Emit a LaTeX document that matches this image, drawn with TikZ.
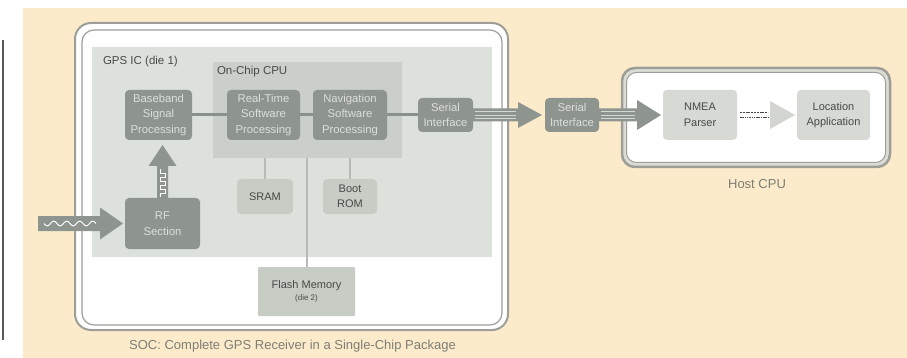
\documentclass[tikz,border=0pt]{standalone}
\usepackage{fontspec}
\setmainfont{Liberation Sans}
\usetikzlibrary{calc}
\definecolor{cream}{HTML}{FCEBCB}
\definecolor{chipfill}{HTML}{DDE1DC}
\definecolor{cpufill}{HTML}{CAD0C9}
\definecolor{darkfill}{HTML}{8E948E}
\definecolor{darktext}{HTML}{DCE0DA}
\definecolor{memfill}{HTML}{C7CCC5}
\definecolor{hostfill}{HTML}{D7D9D5}
\definecolor{labeltext}{HTML}{484A45}
\definecolor{captext}{HTML}{7E7E74}
\definecolor{frame}{HTML}{9E9E98}
\definecolor{busline}{HTML}{8A908A}
\definecolor{memline}{HTML}{B6BBB5}
\definecolor{stripe}{HTML}{D4D8D2}
\definecolor{hostgap}{HTML}{DCDCD7}
\definecolor{softarrow}{HTML}{D3D5D1}
\definecolor{edgeline}{HTML}{5A5A5A}
\begin{document}
\begin{tikzpicture}[x=1pt,y=-1pt,
  every node/.style={outer sep=0pt, inner sep=0pt},
  darkbox/.style={fill=darkfill, rounded corners=4pt, text=darktext, align=center, font=\fontsize{11.3}{15.5}\selectfont},
  membox/.style={fill=memfill, rounded corners=4pt, text=labeltext, align=center, font=\fontsize{11}{14.5}\selectfont},
  appbox/.style={fill=hostfill, rounded corners=4pt, text=labeltext, align=center, font=\fontsize{11}{15.5}\selectfont},
  header/.style={anchor=west, text=labeltext, font=\fontsize{11.5}{14}\selectfont},
  captionlabel/.style={text=captext, font=\fontsize{13}{16}\selectfont},
  bus/.style={draw=busline, line width=3pt},
  membus/.style={draw=memline, line width=2pt},
]
\useasboundingbox (0,0) rectangle (907,358);
% page background
\fill[cream] (23,8) rectangle (907,358);
\draw[edgeline, line width=1.2pt] (3,40) -- (3,340);

% SOC package outline (double frame)
\node[draw=frame, line width=2pt, fill=white, rounded corners=16pt,
      minimum width=433pt, minimum height=307pt] (soc) at (291.5,176.5) {};
\node[draw=frame, line width=1.2pt, rounded corners=12pt,
      minimum width=420pt, minimum height=295pt] (socin) at (292,177.5) {};
\node[captionlabel] (soccap) at (292.5,346) {SOC: Complete GPS Receiver in a Single-Chip Package};

% GPS die and on-chip CPU areas
\node[fill=chipfill, minimum width=400pt, minimum height=210pt] (gpsic) at (292,152) {};
\node[header] (gpslabel) at (103,62) {GPS IC (die 1)};
\node[fill=cpufill, minimum width=189pt, minimum height=96pt] (cpu) at (307.5,110) {};
\node[header] (cpulabel) at (217,72) {On-Chip CPU};

% processing blocks
\node[darkbox, minimum width=67pt, minimum height=50pt] (baseband) at (158.5,115) {Baseband\\Signal\\Processing};
\node[darkbox, minimum width=73pt, minimum height=50pt] (realtime) at (263.5,115) {Real-Time\\Software\\Processing};
\node[darkbox, minimum width=74pt, minimum height=50pt] (nav) at (350,115) {Navigation\\Software\\Processing};
\node[darkbox, minimum width=55pt, minimum height=34pt] (serL) at (445.5,115) {Serial\\Interface};
\node[darkbox, minimum width=75pt, minimum height=51pt] (rf) at (162.5,223.5) {RF\\Section};

% memories
\node[membox, minimum width=56pt, minimum height=35pt] (sram) at (265,196.5) {SRAM};
\node[membox, minimum width=54pt, minimum height=35pt] (bootrom) at (350,196.5) {Boot\\ROM};
\node[membox, rounded corners=1pt, minimum width=97pt, minimum height=49pt] (flash) at (306.5,291.5)
  {Flash Memory\\[-2pt]{\fontsize{8}{10}\selectfont (die 2)}};

% buses
\draw[bus] (baseband.east) -- (realtime.west);
\draw[bus] (realtime.east) -- (nav.west);
\draw[bus] (nav.east) -- (serL.west);
\draw[membus] (sram.north) -- (sram.north |- cpu.south);
\draw[membus] (bootrom.north) -- (bootrom.north |- cpu.south);
\draw[membus] (flash.north) -- (flash.north |- cpu.south);

% external serial interface
\node[darkbox, minimum width=54pt, minimum height=34pt] (serR) at (572,115) {Serial\\Interface};

% host CPU frame
\node[draw=frame, line width=2.5pt, fill=hostgap, rounded corners=13pt,
      minimum width=268pt, minimum height=99pt] (host) at (756,117.5) {};
\node[draw=frame, line width=1pt, fill=white, rounded corners=10pt,
      minimum width=259pt, minimum height=90pt] (hostin) at (756,117.5) {};
\node[captionlabel] (hostlabel) at (757,184) {Host CPU};
\node[appbox, minimum width=74pt, minimum height=50pt] (nmea) at (700,115) {NMEA\\Parser};
\node[appbox, minimum width=73pt, minimum height=50pt] (locapp) at (833.5,115) {Location\\Application};

% serial link between the two interfaces
\fill[darkfill] ($(serL.east)+(0,-6.5)$) -- ($(serR.west)+(-27,-6.5)$) -- ($(serR.west)+(-27,-13)$)
  -- ($(serR.west)+(-3,0)$) -- ($(serR.west)+(-27,13)$) -- ($(serR.west)+(-27,6.5)$)
  -- ($(serL.east)+(0,6.5)$) -- cycle;
\foreach \dy in {-3.5,0,3.5}
  \draw[stripe, line width=0.6pt] ($(serL.east)+(2,\dy)$) -- ($(serR.west)+(-29,\dy)$);

% serial link into the host
\fill[darkfill] ($(serR.east)+(0,-6.5)$) -- ($(nmea.west)+(-26,-6.5)$) -- ($(nmea.west)+(-26,-15)$)
  -- ($(nmea.west)+(-2,0)$) -- ($(nmea.west)+(-26,15)$) -- ($(nmea.west)+(-26,6.5)$)
  -- ($(serR.east)+(0,6.5)$) -- cycle;
\foreach \dy in {-3.5,0,3.5}
  \draw[stripe, line width=0.6pt] ($(serR.east)+(2,\dy)$) -- ($(nmea.west)+(-28,\dy)$);

% parser to application
\fill[softarrow] ($(locapp.west)+(-27,-14)$) -- ($(locapp.west)+(-2,0)$) -- ($(locapp.west)+(-27,14)$) -- cycle;
\draw[labeltext, line width=1.4pt, dash pattern=on 2pt off 0.8pt] ($(nmea.east)+(3,-2.5)$) -- ($(locapp.west)+(-29,-2.5)$);
\draw[labeltext, line width=1.4pt, dash pattern=on 1.5pt off 0.8pt] ($(nmea.east)+(3,2.5)$) -- ($(locapp.west)+(-29,2.5)$);

% antenna input into the RF section
\coordinate (antenna) at (38,223.5);
\fill[darkfill] ($(antenna)+(0,-7.5)$) -- ($(rf.west)+(-25,-7.5)$) -- ($(rf.west)+(-25,-16)$)
  -- ($(rf.west)+(-2,0)$) -- ($(rf.west)+(-25,16)$) -- ($(rf.west)+(-25,7.5)$)
  -- ($(antenna)+(0,7.5)$) -- cycle;
\draw[white, line width=1pt] plot[domain=0:52, samples=80] ({44+\x}, {223.5+2.3*sin(27.7*\x)});

% RF section up to baseband
\coordinate (uptip) at ($(rf.north |- baseband.south)+(0,5)$);
\fill[darkfill] ($(rf.north)+(-5.5,0)$) -- ($(uptip)+(-5.5,21)$) -- ($(uptip)+(-14,21)$) -- (uptip)
  -- ($(uptip)+(14,21)$) -- ($(uptip)+(5.5,21)$) -- ($(rf.north)+(5.5,0)$) -- cycle;
\draw[white, line width=0.8pt] (160,197) -- (160,193) -- (165,193) -- (165,189) -- (160,189) -- (160,185)
  -- (165,185) -- (165,181) -- (160,181) -- (160,177) -- (165,177) -- (165,173) -- (160,173) -- (160,169);
\end{tikzpicture}
\end{document}
